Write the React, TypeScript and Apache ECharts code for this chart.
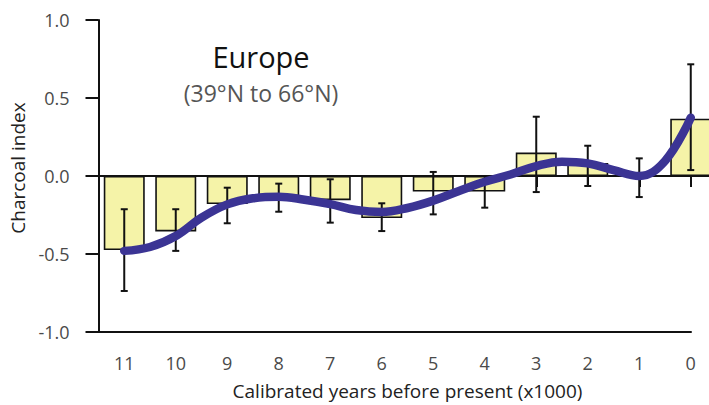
import React, { useEffect, useRef } from "react";
import * as echarts from "echarts";

const categories = ["11", "10", "9", "8", "7", "6", "5", "4", "3", "2", "1", "0"];
const barValues = [-0.475, -0.355, -0.18, -0.13, -0.155, -0.27, -0.1, -0.1, 0.15, 0.083, 0.0, 0.367];
const errLow = [-0.737, -0.48, -0.303, -0.229, -0.299, -0.353, -0.246, -0.203, -0.103, -0.064, -0.135, 0.038];
const errHigh = [-0.213, -0.213, -0.075, -0.049, -0.021, -0.175, 0.026, 0.0, 0.38, 0.194, 0.113, 0.716];
// trend curve, at half-thousand-year steps
const trendYears = [11, 10.5, 10, 9.5, 9, 8.5, 8, 7.5, 7, 6.5, 6, 5.5, 5, 4.5, 4, 3.5, 3, 2.5, 2, 1.5, 1, 0.5, 0];
const trendValues = [
  -0.48, -0.455, -0.385, -0.267, -0.182, -0.143, -0.133, -0.152, -0.18, -0.218, -0.231, -0.205,
  -0.158, -0.096, -0.037, 0.01, 0.064, 0.092, 0.081, 0.038, 0.0, 0.096, 0.374,
];
const yTicks = [-1.0, -0.5, 0.0, 0.5, 1.0];

const FONT = '"Open Sans", "Noto Sans", sans-serif';

export default function App() {
  const ref = useRef<HTMLDivElement>(null);
  useEffect(() => {
    if (!ref.current) return;
    const chart = echarts.init(ref.current, undefined, { renderer: "svg" });
    const errData = categories.map((_, i) => [i, errLow[i], errHigh[i]]);
    const trendData = trendYears.map((yr, i) => [yr, trendValues[i]]);
    chart.setOption({
      animation: false,
      textStyle: { fontFamily: FONT },
      graphic: [
        {
          type: "text",
          x: 261,
          y: 56,
          style: {
            text: "Europe",
            font: `29px ${FONT}`,
            fill: "#111",
            textAlign: "center",
            textVerticalAlign: "middle",
          },
        },
        {
          type: "text",
          x: 261,
          y: 93,
          style: {
            text: "(39°N to 66°N)",
            font: `23px ${FONT}`,
            fill: "#555",
            textAlign: "center",
            textVerticalAlign: "middle",
          },
        },
      ],
      grid: [
        { left: 98.5, top: 20, width: 618, height: 312, outerBoundsMode: "none", containLabel: false },
        { left: 98.5, top: 20, width: 592.5, height: 312, outerBoundsMode: "none", containLabel: false },
      ],
      xAxis: [
        {
          type: "category",
          gridIndex: 0,
          data: categories,
          boundaryGap: true,
          axisLine: { show: false },
          axisTick: {
            show: true,
            alignWithLabel: true,
            length: 11,
            lineStyle: { color: "#111", width: 2 },
          },
          axisLabel: { margin: 22, fontSize: 18, color: "#4a4a4a", fontFamily: FONT },
          name: "Calibrated years before present (x1000)",
          nameLocation: "middle",
          nameGap: 49,
          nameTextStyle: { fontSize: 19, color: "#222", fontFamily: FONT },
        },
        {
          type: "value",
          gridIndex: 1,
          min: 0,
          max: 1,
          axisLine: { show: true, onZero: false, lineStyle: { color: "#111", width: 2 } },
          axisTick: { show: false },
          axisLabel: { show: false },
          splitLine: { show: false },
        },
        {
          type: "value",
          gridIndex: 0,
          min: -0.5,
          max: 11.5,
          inverse: true,
          show: false,
        },
      ],
      yAxis: [
        {
          type: "value",
          gridIndex: 0,
          min: -1,
          max: 1,
          interval: 0.5,
          axisLine: { show: true, onZero: false, lineStyle: { color: "#111", width: 2 } },
          axisTick: { show: true, length: 13, lineStyle: { color: "#111", width: 2 } },
          axisLabel: {
            margin: 29,
            fontSize: 18,
            color: "#4a4a4a",
            fontFamily: FONT,
            formatter: (v: number) => (yTicks.includes(v) ? v.toFixed(1) : ""),
          },
          splitLine: { show: false },
          name: "Charcoal index",
          nameLocation: "middle",
          nameGap: 66,
          nameTextStyle: { fontSize: 19, color: "#222", fontFamily: FONT, padding: [0, 0, 0, 16] },
        },
        {
          type: "value",
          gridIndex: 1,
          min: -1,
          max: 1,
          show: false,
        },
      ],
      series: [
        {
          type: "bar",
          xAxisIndex: 0,
          yAxisIndex: 0,
          data: barValues,
          barWidth: 41,
          itemStyle: { color: "#f5f3a8", borderColor: "#111", borderWidth: 1.6 },
          z: 2,
          markLine: {
            silent: true,
            symbol: "none",
            label: { show: false },
            lineStyle: { color: "#111", width: 2, type: "solid" },
            data: [{ yAxis: 0 }],
            z: 3,
          },
        },
        {
          type: "custom",
          xAxisIndex: 0,
          yAxisIndex: 0,
          data: errData,
          z: 4,
          renderItem: (params: any, api: any) => {
            const x = api.value(0);
            const lo = api.coord([x, api.value(1)]);
            const hi = api.coord([x, api.value(2)]);
            const cap = 3.5;
            const style = { stroke: "#111", lineWidth: 2 };
            return {
              type: "group",
              children: [
                { type: "line", shape: { x1: lo[0], y1: lo[1], x2: hi[0], y2: hi[1] }, style },
                { type: "line", shape: { x1: lo[0] - cap, y1: lo[1], x2: lo[0] + cap, y2: lo[1] }, style },
                { type: "line", shape: { x1: hi[0] - cap, y1: hi[1], x2: hi[0] + cap, y2: hi[1] }, style },
              ],
            };
          },
        },
        {
          type: "line",
          xAxisIndex: 2,
          yAxisIndex: 0,
          data: trendData,
          smooth: 0.4,
          symbol: "none",
          lineStyle: { color: "#3b3494", width: 8.5, cap: "round" },
          z: 5,
        },
      ],
    });
    return () => chart.dispose();
  }, []);
  return (
    <div
      ref={ref}
      style={{ position: "fixed", left: 0, top: 0, width: 709, height: 405, background: "#fff" }}
    />
  );
}
